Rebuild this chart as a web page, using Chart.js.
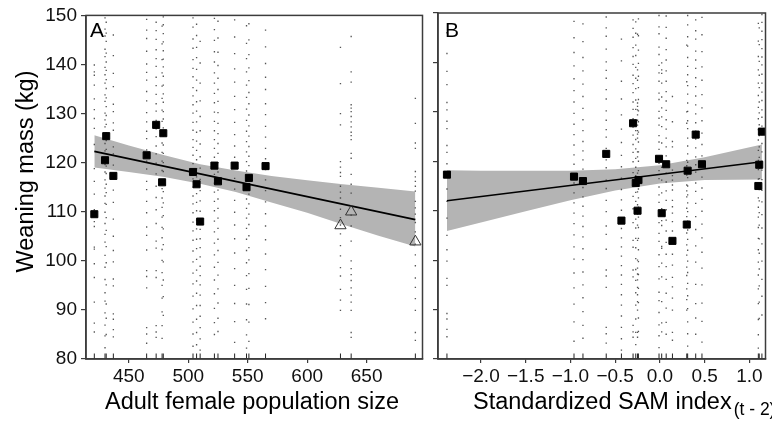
<!DOCTYPE html>
<html>
<head>
<meta charset="utf-8">
<title>Weaning mass vs population size and SAM index</title>
<script src="https://cdn.jsdelivr.net/npm/chart.js@4.4.1/dist/chart.umd.min.js"></script>
<style>
  html, body { margin: 0; padding: 0; background: #fff; }
  #wrap { position: relative; width: 772px; height: 425px; }
  #boxA { position: absolute; left: 0; top: 0; width: 430px; height: 425px; }
  #boxB { position: absolute; left: 430px; top: 0; width: 342px; height: 425px; }
</style>
</head>
<body>
<div id="wrap">
  <div id="boxA"><canvas id="chartA"></canvas></div>
  <div id="boxB"><canvas id="chartB"></canvas></div>
</div>
<script>
// ── Style ─────────────────────────────────────────────────────────────────────
const FONT = '"Liberation Sans", Arial, Helvetica, sans-serif';
const INK  = '#111';
const AXIS = '#3c3c3c';
const BAND = '#b4b4b4';
const DOT  = 'rgba(55,55,55,0.85)';

// ── Données (une valeur par année) ────────────────────────────────────────────
const POP       = [421, 430, 431, 437, 465, 473, 478, 479, 504, 507, 510, 522, 525, 539, 549, 551, 565, 628, 637, 691];
const SAM       = [0.02, -0.01, 0.40, -2.38, -0.60, -0.30, -0.86, 1.14, 0.31, -0.27, -0.43, 0.07, -0.24, 0.47, 1.10, -0.96, 1.11, 0.30, -0.25, 0.14];
const MEAN_MASS = [109.5, 120.5, 125.4, 117.3, 121.5, 127.7, 116.0, 126.0, 118.1, 115.6, 108.0, 119.4, 116.2, 119.4, 115.0, 116.9, 119.3, 107.2, 110.0, 103.9];
// années tracées en triangles ouverts dans le panneau A
const OPEN_A    = [false, false, false, false, false, false, false, false, false, false, false, false, false, false, false, false, false, true, true, true];

// masses individuelles des petits (kg), même ordre que POP
const PUP_MASS = [
  [139.9, 138.5, 137.8, 135.8, 133.0, 130.8, 129.0, 127.0, 123.7, 118.8, 116.2, 113.6, 110.4, 108.0, 107.0, 102.8, 102.4, 99.4, 96.6, 91.6, 87.3, 85.5],
  [149.5, 147.2, 145.8, 143.1, 141.6, 139.4, 137.9, 136.2, 133.8, 132.5, 130.1, 128.7, 127.3, 125.2, 123.9, 122.4, 121.0, 119.6, 118.1, 116.5, 114.8, 113.2, 111.7, 109.9, 107.6, 105.4, 103.8, 101.1, 98.7, 96.2, 93.5, 91.8, 89.4, 86.9, 84.7, 82.3],
  [148.6, 146.4, 144.7, 142.3, 140.5, 138.8, 136.9, 135.1, 133.2, 131.4, 129.6, 127.8, 126.1, 124.5, 122.7, 120.9, 119.3, 117.8, 115.6, 113.9, 111.5, 108.8, 106.2, 102.9, 99.6, 95.1, 91.2, 88.3, 85.0],
  [146.0, 141.8, 138.2, 135.5, 131.9, 130.4, 128.1, 126.6, 123.2, 121.8, 119.5, 117.0, 114.4, 111.9, 108.5, 105.0, 102.1, 99.8, 96.3, 94.9, 89.2, 88.1, 86.0, 84.5],
  [149.2, 147.0, 145.3, 142.7, 140.1, 138.4, 136.8, 134.5, 132.6, 130.2, 128.3, 126.4, 124.9, 122.6, 120.3, 118.7, 116.2, 114.5, 112.1, 109.8, 106.9, 105.2, 102.2, 98.0, 96.8, 94.5, 86.4, 85.1, 83.2],
  [148.6, 146.9, 145.1, 143.0, 141.2, 139.6, 137.4, 135.7, 133.9, 132.0, 130.5, 128.6, 126.9, 125.3, 123.4, 121.8, 119.9, 117.7, 115.2, 112.9, 110.4, 107.6, 104.0, 102.6, 98.0, 96.6, 86.8, 85.5, 84.4],
  [147.8, 144.2, 141.0, 138.3, 135.6, 133.1, 130.7, 128.4, 126.2, 124.0, 122.1, 120.3, 118.4, 116.5, 114.7, 112.8, 110.9, 108.9, 106.8, 104.7, 102.3, 100.1, 97.6, 95.0, 92.4, 89.6, 86.8, 84.2],
  [149.7, 148.1, 146.3, 144.6, 142.8, 141.1, 139.5, 137.6, 135.8, 134.0, 132.3, 130.4, 128.9, 127.1, 125.4, 123.6, 121.9, 120.0, 118.2, 116.3, 114.1, 111.8, 109.2, 106.5, 103.3, 99.8, 96.1, 92.7, 88.9],
  [149.5, 147.6, 145.2, 143.3, 141.0, 139.2, 137.5, 135.3, 133.6, 131.8, 130.1, 128.2, 126.6, 124.7, 123.1, 121.5, 119.8, 118.3, 116.7, 115.0, 113.2, 111.6, 109.8, 107.9, 106.1, 104.2, 102.0, 99.8, 97.5, 95.3, 92.8, 90.2, 87.5, 85.1, 82.6],
  [148.2, 145.9, 143.5, 141.4, 139.0, 136.8, 134.7, 132.4, 130.5, 128.3, 126.2, 124.4, 122.5, 120.6, 118.8, 117.1, 115.4, 113.7, 111.9, 110.2, 108.3, 106.5, 104.4, 102.5, 100.3, 98.1, 95.9, 93.4, 90.9, 88.1, 85.4, 82.9],
  [144.7, 140.3, 136.2, 132.6, 129.4, 126.5, 123.8, 121.2, 118.9, 116.6, 114.3, 112.2, 110.1, 108.3, 106.4, 104.5, 102.7, 100.8, 98.9, 97.0, 95.1, 93.0, 90.9, 88.7, 86.4, 84.1, 81.8],
  [149.4, 147.1, 144.9, 142.6, 140.5, 138.3, 136.2, 134.1, 132.2, 130.3, 128.4, 126.5, 124.7, 122.9, 121.1, 119.4, 117.6, 115.8, 114.0, 112.1, 110.2, 108.1, 105.9, 103.6, 101.2, 98.7, 96.1, 93.3, 90.3, 87.4, 85.0],
  [148.8, 145.4, 142.5, 139.8, 137.2, 134.9, 132.5, 130.2, 128.0, 125.9, 123.9, 121.9, 120.0, 118.1, 116.3, 114.4, 112.6, 110.7, 108.7, 106.6, 104.4, 102.1, 99.7, 97.1, 94.3, 91.4, 88.3, 85.6],
  [149.1, 145.6, 142.2, 139.1, 136.4, 133.5, 130.8, 128.2, 125.7, 123.4, 121.1, 118.9, 116.8, 114.6, 112.3, 109.9, 107.3, 104.5, 101.6, 98.4, 95.0, 91.3, 87.6, 83.4],
  [147.9, 144.3, 141.2, 138.5, 135.8, 133.3, 130.9, 128.6, 126.4, 124.3, 122.2, 120.2, 118.3, 116.4, 114.5, 112.6, 110.7, 108.7, 106.6, 104.4, 102.1, 99.6, 97.0, 94.2, 91.2, 88.0, 84.9, 82.2],
  [148.3, 145.0, 142.0, 139.3, 136.7, 134.3, 132.0, 129.7, 127.5, 125.4, 123.3, 121.3, 119.4, 117.5, 115.6, 113.6, 111.6, 109.5, 107.4, 105.1, 102.7, 100.2, 97.4, 94.4, 91.1, 87.5, 83.6],
  [147.0, 143.6, 140.2, 137.4, 134.9, 132.0, 129.8, 127.4, 125.2, 122.9, 120.8, 118.6, 116.5, 114.3, 112.0, 109.6, 107.1, 104.3, 101.4, 98.2, 94.8, 91.5, 88.2],
  [143.5, 136.1, 130.0, 127.7, 120.2, 119.1, 118.0, 117.2, 115.2, 114.0, 112.8, 110.5, 108.8, 107.3, 105.5, 103.1, 101.0, 98.6, 96.9, 94.2, 92.0, 89.9],
  [145.7, 138.5, 136.4, 131.8, 131.1, 130.4, 129.4, 128.3, 127.3, 126.2, 125.5, 124.7, 121.9, 120.9, 117.6, 115.6, 113.8, 111.2, 109.3, 107.1, 104.0, 100.0, 98.4, 97.2, 96.0, 94.5, 93.0, 91.6, 89.9, 85.4, 84.4],
  [133.1, 128.0, 124.0, 122.9, 118.2, 117.1, 116.2, 115.2, 114.2, 112.1, 110.8, 109.5, 107.8, 105.9, 103.4, 101.2, 99.0, 96.5, 94.6, 92.3, 89.9, 85.4, 83.8],
];

// droite ajustée + intervalle de confiance, panneau A
const FIT_A_X   = [421, 691];
const FIT_A_Y   = [122.3, 108.4];
const BAND_A_X  = [421, 450, 480, 510, 540, 570, 600, 630, 660, 691];
const BAND_A_HI = [125.6, 123.5, 121.5, 119.7, 118.4, 117.3, 116.4, 115.6, 114.9, 114.1];
const BAND_A_LO = [119.0, 118.1, 117.1, 115.7, 114.0, 111.9, 109.8, 107.4, 105.1, 102.9];

// droite ajustée + intervalle de confiance, panneau B
const FIT_B_X   = [-2.38, 1.14];
const FIT_B_Y   = [112.0, 119.9];
const BAND_B_X  = [-2.38, -2.0, -1.5, -1.0, -0.5, 0.0, 0.5, 1.14];
const BAND_B_HI = [118.2, 118.1, 118.1, 118.1, 118.4, 119.2, 120.8, 123.4];
const BAND_B_LO = [105.9, 107.6, 109.9, 112.1, 114.1, 115.5, 116.2, 116.3];

// axes
const Y_TICKS   = [80, 90, 100, 110, 120, 130, 140, 150];
const X_TICKS_A = [450, 500, 550, 600, 650];
const X_TICKS_B = [-2.0, -1.5, -1.0, -0.5, 0.0, 0.5, 1.0];

// ── Construction ──────────────────────────────────────────────────────────────
function xy(xs, ys) {
  return xs.map((x, i) => ({ x, y: ys[i] }));
}

function buildDatasets(xs, fitX, fitY, bandX, bandHi, bandLo, openFlags) {
  const pups = [];
  PUP_MASS.forEach((list, i) => list.forEach((m) => pups.push({ x: xs[i], y: m })));
  const means = xy(xs, MEAN_MASS);
  return [
    // IC : bord haut rempli jusqu'au bord bas
    { data: xy(bandX, bandHi), borderWidth: 0, pointRadius: 0, fill: '+1', backgroundColor: BAND, order: 6 },
    { data: xy(bandX, bandLo), borderWidth: 0, pointRadius: 0, fill: false, order: 6 },
    // petits individuels
    { data: pups, showLine: false, pointStyle: 'rect', pointRadius: 0.95, pointBackgroundColor: DOT, pointBorderWidth: 0, order: 5 },
    // droite de régression
    { data: xy(fitX, fitY), borderColor: '#000', borderWidth: 1.6, pointRadius: 0, fill: false, order: 4 },
    // rug au bas de l'axe
    { data: xs.map((x) => ({ x, y: 80 })), showLine: false, pointStyle: 'line', pointRotation: 90, pointRadius: 5.5,
      pointBorderColor: '#222', pointBorderWidth: 1, clip: 0, order: 3 },
    // moyennes annuelles
    { data: means.filter((_, i) => !openFlags[i]), showLine: false, pointStyle: 'rect', pointRadius: 5,
      pointBackgroundColor: '#000', pointBorderColor: '#000', pointBorderWidth: 1, order: 1 },
    { data: means.filter((_, i) => openFlags[i]), showLine: false, pointStyle: 'triangle', pointRadius: 6.5,
      pointBackgroundColor: 'rgba(0,0,0,0)', pointBorderColor: '#333', pointBorderWidth: 1, order: 1 },
  ];
}

function buildScales(xMin, xMax, xTicks, fmt, yWidth, showYLabels) {
  return {
    x: {
      type: 'linear', min: xMin, max: xMax,
      afterBuildTicks: (s) => { s.ticks = xTicks.map((v) => ({ value: v })); },
      afterFit: (s) => { s.height = 66; },
      border: { display: true, color: AXIS, width: 1.5 },
      grid: { drawOnChartArea: false, drawTicks: true, tickLength: 4, color: AXIS, lineWidth: 1.2 },
      ticks: { autoSkip: false, maxRotation: 0, color: INK, font: { family: FONT, size: 19 }, padding: 2, callback: fmt },
      title: { display: false },
    },
    y: {
      type: 'linear', min: 80, max: 150,
      afterBuildTicks: (s) => { s.ticks = Y_TICKS.map((v) => ({ value: v })); },
      afterFit: (s) => { s.width = yWidth; },
      border: { display: true, color: AXIS, width: 1.5 },
      grid: { drawOnChartArea: false, drawTicks: true, tickLength: 5, color: AXIS, lineWidth: 1.2 },
      ticks: { display: showYLabels, autoSkip: false, color: INK, font: { family: FONT, size: 19 }, padding: 4 },
      title: { display: false },
    },
  };
}

// cadre, lettre du panneau et titres d'axes
function decor(id, letter, letterX, drawTitles) {
  return {
    id,
    afterDraw(chart) {
      const { ctx, chartArea: a } = chart;
      ctx.save();
      ctx.strokeStyle = AXIS;
      ctx.lineWidth = 1.5;
      ctx.strokeRect(a.left, a.top, a.right - a.left, a.bottom - a.top);
      ctx.fillStyle = '#000';
      ctx.textBaseline = 'alphabetic';
      ctx.font = `21px ${FONT}`;
      ctx.fillText(letter, letterX, 37);
      drawTitles(ctx);
      ctx.restore();
    },
  };
}

const titlesA = (ctx) => {
  ctx.font = `23.5px ${FONT}`;
  ctx.textAlign = 'center';
  ctx.fillText('Adult female population size', 252, 408.5);
  ctx.save();
  ctx.translate(32.5, 171.5);
  ctx.rotate(-Math.PI / 2);
  ctx.fillText('Weaning mass (kg)', 0, 0);
  ctx.restore();
};

const titlesB = (ctx) => {
  const main = 'Standardized SAM index';
  ctx.font = `23.5px ${FONT}`;
  ctx.textAlign = 'left';
  ctx.fillText(main, 43, 408.5);
  const w = ctx.measureText(main).width;
  ctx.font = `17.5px ${FONT}`;
  ctx.fillText('(t - 2)', 43 + w + 2, 415);
};

const common = {
  animation: false,
  responsive: true,
  maintainAspectRatio: false,
  events: [],
  plugins: { legend: { display: false }, tooltip: { enabled: false } },
};

new Chart(document.getElementById('chartA'), {
  type: 'line',
  data: { datasets: buildDatasets(POP, FIT_A_X, FIT_A_Y, BAND_A_X, BAND_A_HI, BAND_A_LO, OPEN_A) },
  options: {
    ...common,
    layout: { padding: { left: 0, top: 13, right: 7, bottom: 0 } },
    scales: buildScales(414, 697, X_TICKS_A, (v) => String(v), 86, true),
  },
  plugins: [decor('decorA', 'A', 90, titlesA)],
});

new Chart(document.getElementById('chartB'), {
  type: 'line',
  data: { datasets: buildDatasets(SAM, FIT_B_X, FIT_B_Y, BAND_B_X, BAND_B_HI, BAND_B_LO, POP.map(() => false)) },
  options: {
    ...common,
    layout: { padding: { left: 0, top: 13, right: 2, bottom: 0 } },
    scales: buildScales(-2.48, 1.18, X_TICKS_B,
      (v) => (v < 0 ? '\u2212' : '') + Math.abs(v).toFixed(1), 8, false),
  },
  plugins: [decor('decorB', 'B', 15, titlesB)],
});
</script>
</body>
</html>
